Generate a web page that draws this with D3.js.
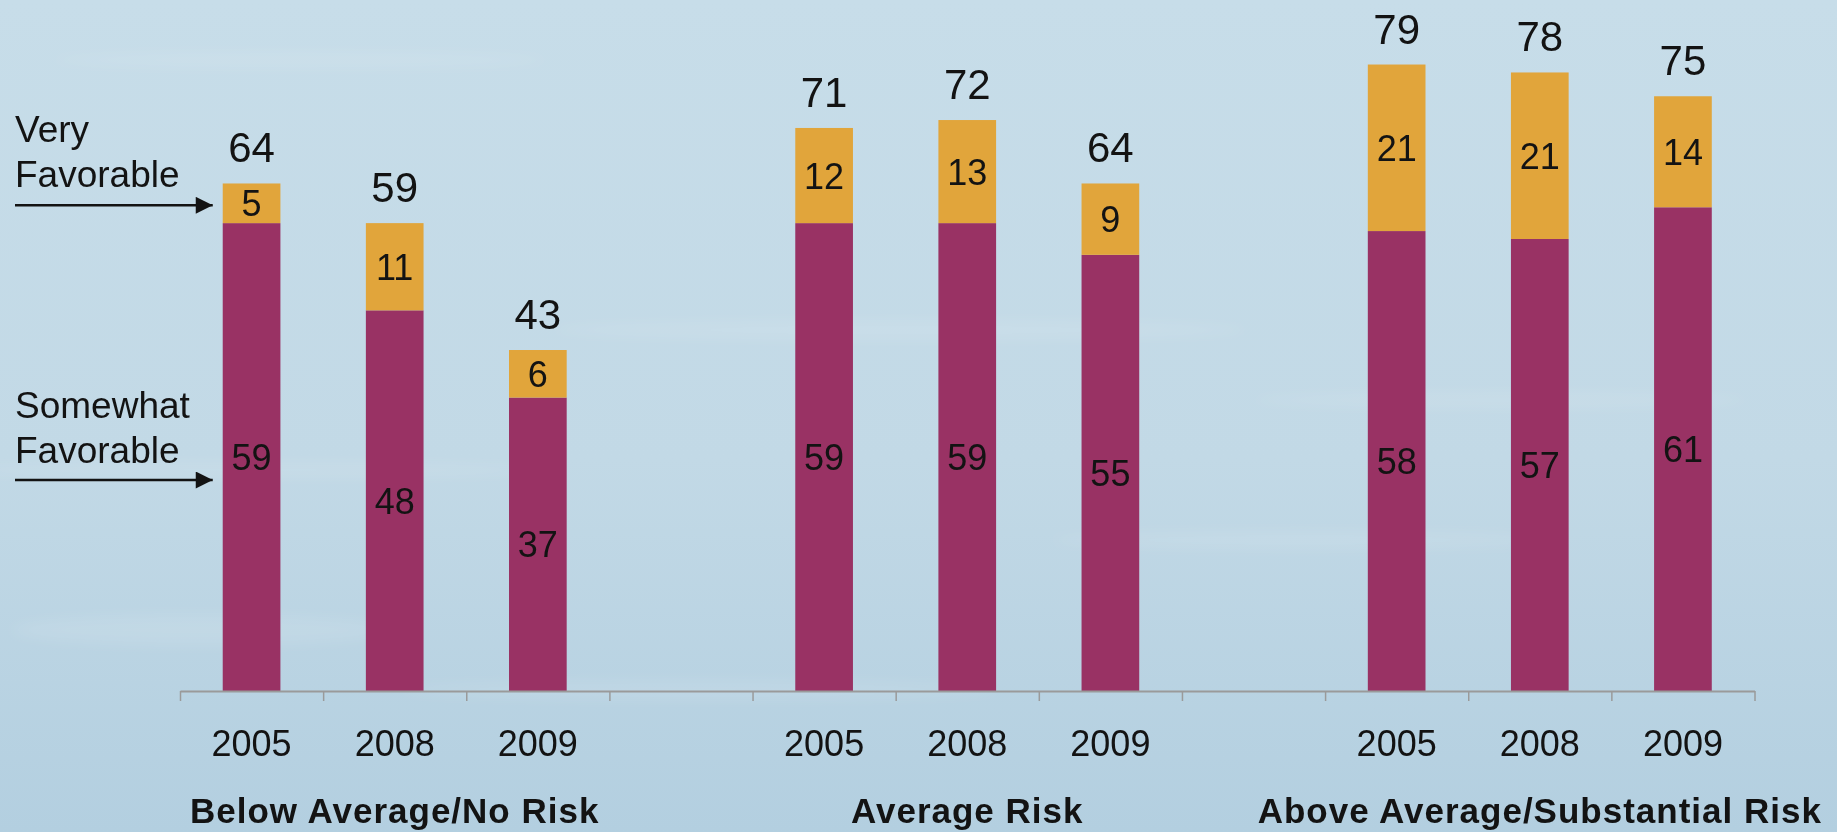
<!DOCTYPE html>
<html>
<head>
<meta charset="utf-8">
<script src="https://cdn.jsdelivr.net/npm/d3@7"></script>
<style>
  html, body { margin: 0; padding: 0; overflow: hidden; }
  svg { display: block; }
  text { font-family: "Liberation Sans", Arial, sans-serif; fill: #131313; }
</style>
</head>
<body>
<svg id="chart" width="1837" height="832" font-family="Liberation Sans, Arial, sans-serif"></svg>
<script>
// ---- data ----
const groups = ["Below Average/No Risk", "Average Risk", "Above Average/Substantial Risk"];
const years = ["2005", "2008", "2009"];
const somewhatFavorable = [59, 48, 37, 59, 59, 55, 58, 57, 61];
const veryFavorable = [5, 11, 6, 12, 13, 9, 21, 21, 14];
const totals = [64, 59, 43, 71, 72, 64, 79, 78, 75];
const seriesLabels = [["Very", "Favorable"], ["Somewhat", "Favorable"]];

// ---- layout ----
const W = 1837, H = 832;
const svg = d3.select("#chart");

// background
const defs = svg.append("defs");
const bg = defs.append("linearGradient").attr("id", "bg").attr("x1", 0).attr("y1", 0).attr("x2", 0).attr("y2", 1);
bg.append("stop").attr("offset", "0%").attr("stop-color", "#c7dde9");
bg.append("stop").attr("offset", "55%").attr("stop-color", "#c2d9e6");
bg.append("stop").attr("offset", "100%").attr("stop-color", "#b3cfe0");
svg.append("rect").attr("width", W).attr("height", H).attr("fill", "url(#bg)");
const blur = defs.append("filter").attr("id", "blur").attr("x", "-20%").attr("y", "-200%").attr("width", "140%").attr("height", "500%");
blur.append("feGaussianBlur").attr("stdDeviation", 7);
const streaks = [[300, 60, 500, 8], [900, 330, 700, 10], [250, 470, 600, 8], [1300, 540, 500, 9], [200, 630, 380, 16], [1500, 400, 500, 8], [700, 690, 600, 10]];
svg.append("g").attr("filter", "url(#blur)").selectAll("ellipse").data(streaks).join("ellipse")
  .attr("cx", d => d[0]).attr("cy", d => d[1]).attr("rx", d => d[2] / 2).attr("ry", d => d[3])
  .attr("fill", "#ffffff").attr("opacity", 0.1);

// slots: 3 bars, gap, 3 bars, gap, 3 bars
const slots = [];
groups.forEach((g, gi) => {
  years.forEach((y, yi) => slots.push({ key: g + "|" + y, group: gi, year: y, idx: gi * 3 + yi }));
  if (gi < groups.length - 1) slots.push({ key: "gap" + gi, gap: true });
});

const x0 = 180, x1 = 1754.5, baseY = 691;
const x = d3.scaleBand().domain(slots.map(s => s.key)).range([x0, x1]).padding(0);
const xTicks = d3.scaleLinear().domain([0, slots.length]).range([x0, x1]);
const y = d3.scaleLinear().domain([0, 87]).range([baseY, baseY - 87 * 7.93]);

const barW = x.bandwidth() * 0.403;
const bars = slots.filter(s => !s.gap);

const colors = { somewhat: "#993264", very: "#e1a53b" };

const gBars = svg.append("g");
// somewhat segments
gBars.selectAll("rect.sw").data(bars).join("rect").attr("class", "sw")
  .attr("x", d => x(d.key) + (x.bandwidth() - barW) / 2)
  .attr("width", barW)
  .attr("y", d => y(somewhatFavorable[d.idx]))
  .attr("height", d => y(0) - y(somewhatFavorable[d.idx]))
  .attr("fill", colors.somewhat);
// very segments
gBars.selectAll("rect.vf").data(bars).join("rect").attr("class", "vf")
  .attr("x", d => x(d.key) + (x.bandwidth() - barW) / 2)
  .attr("width", barW)
  .attr("y", d => y(somewhatFavorable[d.idx] + veryFavorable[d.idx]))
  .attr("height", d => y(somewhatFavorable[d.idx]) - y(somewhatFavorable[d.idx] + veryFavorable[d.idx]))
  .attr("fill", colors.very);

const cx = d => x(d.key) + x.bandwidth() / 2;
const innerFs = 36;
// inner labels
gBars.selectAll("text.swl").data(bars).join("text")
  .attr("x", cx).attr("y", d => (y(0) + y(somewhatFavorable[d.idx])) / 2 + innerFs * 0.36)
  .attr("text-anchor", "middle").attr("font-size", innerFs)
  .text(d => somewhatFavorable[d.idx]);
gBars.selectAll("text.vfl").data(bars).join("text")
  .attr("x", cx).attr("y", d => (y(somewhatFavorable[d.idx]) + y(somewhatFavorable[d.idx] + veryFavorable[d.idx])) / 2 + innerFs * 0.36)
  .attr("text-anchor", "middle").attr("font-size", innerFs)
  .text(d => veryFavorable[d.idx]);
// totals
gBars.selectAll("text.tot").data(bars).join("text")
  .attr("x", cx).attr("y", d => y(totals[d.idx]) - 21)
  .attr("text-anchor", "middle").attr("font-size", 42)
  .text(d => totals[d.idx]);

// axis
const axis = svg.append("g").attr("transform", `translate(0,${baseY})`)
  .call(d3.axisBottom(xTicks).tickValues(d3.range(slots.length + 1)).tickFormat("").tickSize(10).tickSizeOuter(0));
axis.select(".domain").attr("stroke", "#9a9a9a").attr("stroke-width", 2);
axis.selectAll(".tick line").attr("stroke", "#9a9a9a").attr("stroke-width", 1.5);

// year labels
svg.append("g").selectAll("text").data(bars).join("text")
  .attr("x", cx).attr("y", 756).attr("text-anchor", "middle").attr("font-size", 36)
  .text(d => d.year);

// group labels
svg.append("g").selectAll("text").data(groups).join("text")
  .attr("x", (d, i) => x(groups[i] + "|" + years[1]) + x.bandwidth() / 2)
  .attr("y", 823).attr("text-anchor", "middle").attr("font-size", 35).attr("font-weight", "bold")
  .attr("letter-spacing", 1)
  .text(d => d);

// series annotations with arrows
defs.append("marker").attr("id", "arrow").attr("viewBox", "0 0 10 10").attr("refX", 10).attr("refY", 5)
  .attr("markerWidth", 18).attr("markerHeight", 17).attr("markerUnits", "userSpaceOnUse").attr("orient", "auto")
  .append("path").attr("d", "M0,0 L10,5 L0,10 Z").attr("fill", "#131313");

const firstBar = bars[0];
const arrowTipX = x(firstBar.key) + (x.bandwidth() - barW) / 2 - 10;
const annot = [
  { lines: seriesLabels[0], baselines: [141.7, 187.3], arrowY: y(somewhatFavorable[0] + veryFavorable[0] / 2) + 2 },
  { lines: seriesLabels[1], baselines: [418.3, 462.7], arrowY: 480 }
];
const ga = svg.append("g");
annot.forEach(a => {
  a.lines.forEach((ln, i) => {
    ga.append("text").attr("x", 15).attr("y", a.baselines[i]).attr("font-size", 37).text(ln);
  });
  ga.append("line").attr("x1", 15).attr("x2", arrowTipX).attr("y1", a.arrowY).attr("y2", a.arrowY)
    .attr("stroke", "#131313").attr("stroke-width", 2.5).attr("marker-end", "url(#arrow)");
});
</script>
</body>
</html>
